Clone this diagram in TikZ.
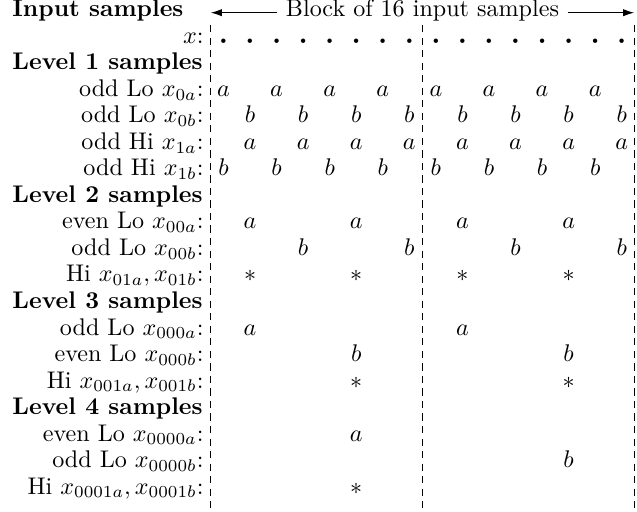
\documentclass[tikz,border=0pt]{standalone}
\usetikzlibrary{arrows.meta}
\begin{document}
\begin{tikzpicture}[x=0.415pt,y=-0.415pt,
  lbl/.style={anchor=base east, inner sep=0pt},
  hdr/.style={anchor=base west, inner sep=0pt, font=\bfseries},
  ent/.style={anchor=base, inner sep=0pt},
  sepline/.style={dash pattern=on 3pt off 2.2pt, line width=0.4pt},
  arr/.style={-{Latex[length=4.6pt,width=3pt]}, line width=0.45pt}]
\useasboundingbox (0,0) rectangle (637,512);
% header
\node[hdr] (title) at (12,17) {Input samples};
\node[anchor=base] (blk) at (422.5,17) {Block of 16 input samples};
\coordinate (aL) at (210.7,12.7);
\coordinate (aR) at (634.3,12.7);
\draw[arr] (blk.west |- aL) -- (aL);
\draw[arr] (blk.east |- aR) -- (aR);
% dashed separators
\foreach \n/\xx in {0/210.7,1/422.5,2/634.3}{
  \coordinate (d\n t) at (\xx,25);
  \coordinate (d\n b) at (\xx,512);
  \draw[sepline] (d\n t) -- (d\n b);
}
% level headers
\foreach \r/\t in {2/Level 1 samples,7/Level 2 samples,11/Level 3 samples,15/Level 4 samples}{
  \node[hdr] (h\r) at (12,17+26.5*\r) {\t};
}
% row labels
\foreach \r/\t in {
  1/{$x$:},
  3/{odd Lo $x_{0a}$:},
  4/{odd Lo $x_{0b}$:},
  5/{odd Hi $x_{1a}$:},
  6/{odd Hi $x_{1b}$:},
  8/{even Lo $x_{00a}$:},
  9/{odd Lo $x_{00b}$:},
  10/{Hi $x_{01a}, x_{01b}$:},
  12/{odd Lo $x_{000a}$:},
  13/{even Lo $x_{000b}$:},
  14/{Hi $x_{001a}, x_{001b}$:},
  16/{even Lo $x_{0000a}$:},
  17/{odd Lo $x_{0000b}$:},
  18/{Hi $x_{0001a}, x_{0001b}$:}}{
  \node[lbl] (l\r) at (204,17+26.5*\r) {\t};
}
% input dots
\foreach \c in {0,...,15}{
  \node[ent] (e1-\c) at (223.5+26.55*\c,17+26.5) {\scalebox{0.75}{$\scriptscriptstyle\bullet$}};
}
% sample entries
\foreach \r/\s/\cols in {
  3/a/{0,2,4,6,8,10,12,14},
  4/b/{1,3,5,7,9,11,13,15},
  5/a/{1,3,5,7,9,11,13,15},
  6/b/{0,2,4,6,8,10,12,14},
  8/a/{1,5,9,13},
  9/b/{3,7,11,15},
  10/*/{1,5,9,13},
  12/a/{1,9},
  13/b/{5,13},
  14/*/{5,13},
  16/a/{5},
  17/b/{13},
  18/*/{5}}{
  \foreach \c in \cols{
    \node[ent] (e\r-\c) at (223.5+26.55*\c,17+26.5*\r) {$\s$};
  }
}
\end{tikzpicture}
\end{document}
